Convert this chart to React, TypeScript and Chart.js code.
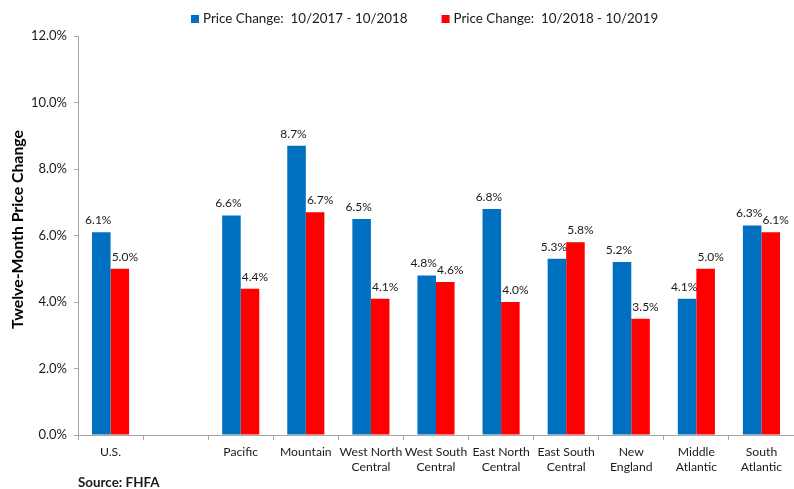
import React, { useEffect, useRef } from "react";
import { Chart, registerables } from "chart.js";
Chart.register(...registerables);

const categories: (string | string[])[] = [
  "U.S.",
  "",
  "Pacific",
  "Mountain",
  ["West North", "Central"],
  ["West South", "Central"],
  ["East North", "Central"],
  ["East South", "Central"],
  ["New", "England"],
  ["Middle", "Atlantic"],
  ["South", "Atlantic"],
];
const change2017to2018: (number | null)[] = [6.1, null, 6.6, 8.7, 6.5, 4.8, 6.8, 5.3, 5.2, 4.1, 6.3];
const change2018to2019: (number | null)[] = [5.0, null, 4.4, 6.7, 4.1, 4.6, 4.0, 5.8, 3.5, 5.0, 6.1];
const seriesNames = ["Price Change:  10/2017 - 10/2018", "Price Change:  10/2018 - 10/2019"];
const seriesColors = ["#0070C0", "#FF0000"];
const yAxisTitle = "Twelve-Month Price Change";
const sourceText = "Source: FHFA";
const yMin = 0;
const yMax = 12;
const yStep = 2;

const FONT = "Lato";
const TEXT = "#1a1a1a";
const AXIS = "#A6A6A6";

const valueLabels = {
  id: "valueLabels",
  afterDatasetsDraw(chart: any) {
    const ctx = chart.ctx;
    ctx.save();
    ctx.font = `12px ${FONT}`;
    ctx.fillStyle = TEXT;
    ctx.textAlign = "center";
    ctx.textBaseline = "middle";
    const offsets = [-3, 5];
    chart.data.datasets.forEach((ds: any, di: number) => {
      const meta = chart.getDatasetMeta(di);
      meta.data.forEach((bar: any, i: number) => {
        const v = ds.data[i];
        if (v === null || v === undefined) return;
        ctx.fillText(v.toFixed(1) + "%", bar.x + offsets[di], bar.y - 12);
      });
    });
    ctx.restore();
  },
};

const customLegend = {
  id: "customLegend",
  afterDraw(chart: any) {
    const ctx = chart.ctx;
    ctx.save();
    ctx.font = `13.4px ${FONT}`;
    ctx.textBaseline = "middle";
    ctx.textAlign = "left";
    let x = 191;
    const y = 19;
    seriesNames.forEach((name, i) => {
      ctx.fillStyle = seriesColors[i];
      ctx.fillRect(x, y - 4, 8, 8);
      ctx.fillStyle = TEXT;
      ctx.fillText(name, x + 12, y);
      x += 12 + ctx.measureText(name).width + 34;
    });
    ctx.restore();
  },
};

const annotations = {
  id: "annotations",
  afterDraw(chart: any) {
    const ctx = chart.ctx;
    const area = chart.chartArea;
    ctx.save();
    ctx.font = `bold 13.4px ${FONT}`;
    ctx.fillStyle = TEXT;
    ctx.textBaseline = "middle";
    ctx.textAlign = "left";
    ctx.fillText(sourceText, area.left, 483);
    ctx.translate(18, (area.top + area.bottom) / 2 - 6);
    ctx.rotate(-Math.PI / 2);
    ctx.textAlign = "center";
    ctx.fillStyle = "#000";
    ctx.font = `bold 15.8px ${FONT}`;
    ctx.fillText(yAxisTitle, 0, 0);
    ctx.restore();
  },
};

export default function App() {
  const ref = useRef<HTMLCanvasElement>(null);
  useEffect(() => {
    if (!ref.current) return;
    const chart = new Chart(ref.current, {
      type: "bar",
      data: {
        labels: categories,
        datasets: [
          {
            label: seriesNames[0],
            data: change2017to2018,
            backgroundColor: seriesColors[0],
            categoryPercentage: 0.57,
            barPercentage: 1,
          },
          {
            label: seriesNames[1],
            data: change2018to2019,
            backgroundColor: seriesColors[1],
            categoryPercentage: 0.57,
            barPercentage: 1,
          },
        ],
      },
      options: {
        responsive: false,
        animation: false,
        layout: { padding: { top: 36, right: 0, bottom: 14, left: 0 } },
        plugins: {
          legend: { display: false },
          tooltip: { enabled: false },
        },
        scales: {
          x: {
            afterFit: (s: any) => {
              s.height = 40;
            },
            border: { display: true, color: AXIS, width: 1 },
            grid: {
              display: true,
              offset: true,
              drawOnChartArea: false,
              drawTicks: true,
              tickLength: 5,
              color: AXIS,
            },
            ticks: {
              color: TEXT,
              font: { family: FONT, size: 12.2, lineHeight: 1.25 },
              padding: 4,
              maxRotation: 0,
              autoSkip: false,
            },
          },
          y: {
            min: yMin,
            max: yMax,
            afterFit: (s: any) => {
              s.width = 78;
            },
            border: { display: true, color: AXIS, width: 1 },
            grid: {
              display: true,
              drawOnChartArea: false,
              drawTicks: true,
              tickLength: 4,
              color: AXIS,
            },
            ticks: {
              stepSize: yStep,
              color: TEXT,
              font: { family: FONT, size: 13 },
              padding: 7,
              callback: (v: any) => Number(v).toFixed(1) + "%",
            },
          },
        },
      },
      plugins: [valueLabels, customLegend, annotations],
    });
    return () => chart.destroy();
  }, []);
  return (
    <div style={{ position: "fixed", left: 0, top: 0, width: 794, height: 489, background: "#fff" }}>
      <canvas ref={ref} width={794} height={489} />
    </div>
  );
}
